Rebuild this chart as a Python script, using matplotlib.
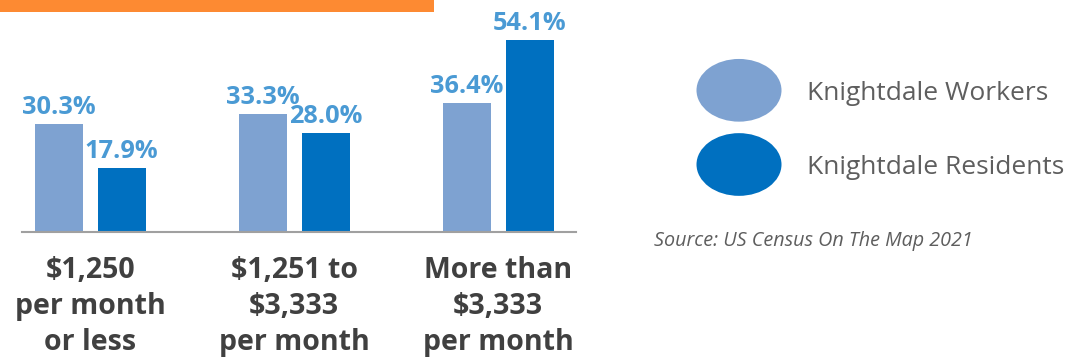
import matplotlib
matplotlib.use("Agg")
import matplotlib.pyplot as plt
from matplotlib.patches import Ellipse, Rectangle

# Monthly earnings brackets and shares (%)
categories = ["$1,250\nper month\nor less",
              "$1,251 to\n$3,333\nper month",
              "More than\n$3,333\nper month"]
series_names = ["Knightdale Workers", "Knightdale Residents"]
workers = [30.3, 33.3, 36.4]
residents = [17.9, 28.0, 54.1]
source_note = "Source: US Census On The Map 2021"

COL_LIGHT = "#7EA2D1"
COL_DARK = "#0070C0"
COL_LABEL = "#4A9AD4"
COL_ORANGE = "#FD8A32"
COL_CAT = "#404040"
COL_LEG = "#5E5E5E"

W, H = 1065, 359
fig = plt.figure(figsize=(W / 100, H / 100), dpi=100)
fig.patch.set_facecolor("white")

# Overlay in pixel units for the header strip and the legend
ov = fig.add_axes([0, 0, 1, 1])
ov.set_xlim(0, W)
ov.set_ylim(H, 0)
ov.axis("off")
ov.add_patch(Rectangle((0, 0), 434, 11.7, color=COL_ORANGE, lw=0))

# Main bar axes
left_px, right_px, base_px = 21.7, 576.0, 232.0
px_per_unit = 3.55
ax = fig.add_axes([left_px / W, (H - base_px) / H,
                   (right_px - left_px) / W, base_px / H])
ax.patch.set_alpha(0)
ax.set_xlim(-0.336, 2.381)
ax.set_ylim(0, base_px / px_per_unit)

x = range(len(categories))
width = 0.235
off = 0.154
b1 = ax.bar([i - off for i in x], workers, width, color=COL_LIGHT, zorder=2)
b2 = ax.bar([i + off for i in x], residents, width, color=COL_DARK, zorder=2)

for bars, vals in ((b1, workers), (b2, residents)):
    for rect, v in zip(bars, vals):
        ax.annotate(f"{v:.1f}%", (rect.get_x() + rect.get_width() / 2, v),
                    xytext=(0, 7.2), textcoords="offset points",
                    ha="center", va="baseline", fontsize=18.3,
                    fontweight="bold", family="Open Sans",
                    color=COL_LABEL, annotation_clip=False, zorder=3)

for s in ("top", "left", "right"):
    ax.spines[s].set_visible(False)
ax.spines["bottom"].set_color("#A0A0A0")
ax.spines["bottom"].set_linewidth(1.5)
ax.spines["bottom"].set_zorder(4)
ax.set_xticks([])
ax.set_yticks([])

# Category labels, one text per line, baselines below the axis
line_offsets_px = [46, 82, 118]
for i, cat in enumerate(categories):
    for line, dy in zip(cat.split("\n"), line_offsets_px):
        ax.annotate(line, (i, 0), xycoords=("data", "axes fraction"),
                    xytext=(0, -dy * 0.72), textcoords="offset points",
                    ha="center", va="baseline", fontsize=20.5,
                    fontweight="bold", family="Open Sans", color=COL_CAT,
                    annotation_clip=False)

# Legend
leg_y = [90.3, 164.5]
for name, col, cy in zip(series_names, [COL_LIGHT, COL_DARK], leg_y):
    ov.add_patch(Ellipse((739, cy), 85, 62.7, color=col, lw=0))
    ov.text(807.3, cy + 9.5, name, ha="left", va="baseline", fontsize=19,
            family="Open Sans", color=COL_LEG)

ov.text(654, 246, source_note, ha="left", va="baseline", fontsize=14.2,
        family="Open Sans", style="italic", color=COL_LEG)

fig.savefig("out.png", dpi=100, facecolor="white")
